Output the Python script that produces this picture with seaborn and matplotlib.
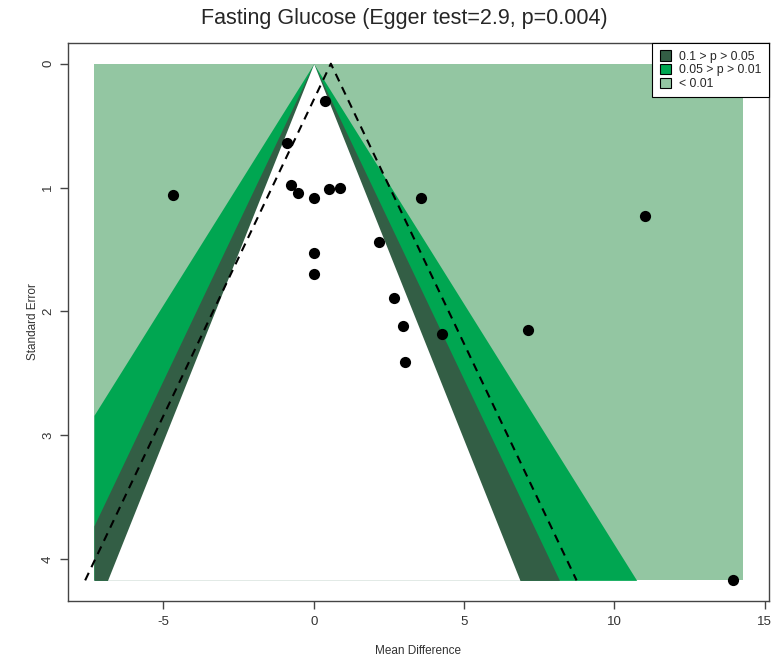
"""Contour-enhanced funnel plot for fasting glucose studies."""

import matplotlib.pyplot as plt
import numpy as np
import pandas as pd
import seaborn as sns
from matplotlib.patches import Patch

# study estimates
mean_diff = [0.37, -0.89, -0.74, -0.53, 0.0, 0.5, 0.86, 3.56, 2.17, 0.0, 0.0,
             2.67, 2.97, 3.03, -4.67, 4.27, 7.13, 11.03, 13.93]
std_err = [0.30, 0.64, 0.98, 1.04, 1.08, 1.01, 1.00, 1.08, 1.44, 1.53, 1.70,
           1.89, 2.12, 2.41, 1.06, 2.18, 2.15, 1.23, 4.17]

contour_z = [2.576, 1.960, 1.645]
contour_colors = ["#00A651", "#335E45", "#FFFFFF"]
legend_labels = ["0.1 > p > 0.05", "0.05 > p > 0.01", "< 0.01"]
legend_colors = ["#335E45", "#00A651", "#93C6A2"]
shade_color = "#93C6A2"

funnel_center = 0.0
egger_center = 0.57
x_range = [-7.31, 14.28]
se_max = 4.17

title = "Fasting Glucose (Egger test=2.9, p=0.004)"
x_ticks = [-5, 0, 5, 10, 15]
y_ticks = [0, 1, 2, 3, 4]

sns.set_style("ticks")
plt.rcParams["font.family"] = ["Liberation Sans", "DejaVu Sans"]
plt.rcParams["axes.unicode_minus"] = False

fig = plt.figure(figsize=(7.71, 6.62), dpi=100)
ax = fig.add_axes([0.0882, 0.0921, 0.9092, 0.8429])

# shaded significance regions
se_grid = np.linspace(0, se_max, 800)
ax.fill_betweenx([0, se_max], x_range[0], x_range[1], color=shade_color, lw=0, zorder=1)
for z, col in zip(contour_z, contour_colors):
    lo = np.clip(funnel_center - z * se_grid, *x_range)
    hi = np.clip(funnel_center + z * se_grid, *x_range)
    ax.fill_betweenx(se_grid, lo, hi, color=col, lw=0, zorder=2)

# regression based pseudo confidence limits
egger = pd.DataFrame({
    "x": np.r_[egger_center - 1.96 * np.array([se_max, 0]),
               egger_center + 1.96 * np.array([0, se_max])],
    "se": [se_max, 0, 0, se_max],
})
ax.plot(egger["x"], egger["se"], color="black", ls=(0, (4, 3)), lw=1.5, zorder=3)

studies = pd.DataFrame({"mean_diff": mean_diff, "std_err": std_err})
sns.scatterplot(data=studies, x="mean_diff", y="std_err", ax=ax, color="black",
                s=65, edgecolor="black", linewidth=0, zorder=4, legend=False)

pad_x = 0.04 * (x_range[1] - x_range[0])
pad_y = 0.04 * se_max
ax.set_xlim(x_range[0] - pad_x, x_range[1] + pad_x)
ax.set_ylim(se_max + pad_y, -pad_y)
ax.set_xticks(x_ticks)
ax.set_yticks(y_ticks)
ax.set_yticklabels([str(t) for t in y_ticks], rotation=90, va="center")
ax.tick_params(direction="out", length=6, width=1, colors="#444444",
               labelsize=9.5, labelcolor="#333333")
ax.tick_params(axis="x", pad=5)
ax.tick_params(axis="y", pad=4)
for spine in ax.spines.values():
    spine.set_color("#444444")
    spine.set_linewidth(1)

ax.set_xlabel("Mean Difference", fontsize=8.5, color="#333333", labelpad=12)
ax.set_ylabel("Standard Error", fontsize=8.5, color="#333333", labelpad=2)
fig.suptitle(title, fontsize=15.5, y=0.988, x=0.525)

handles = [Patch(facecolor=c, edgecolor="black", lw=0.8) for c in legend_colors]
leg = ax.legend(handles, legend_labels, loc="upper right", fontsize=8.8,
                frameon=True, fancybox=False, framealpha=1, borderaxespad=0,
                handlelength=0.9, handleheight=0.9, handletextpad=0.7,
                labelspacing=0.12, borderpad=0.6)
leg.get_frame().set_edgecolor("black")
leg.get_frame().set_linewidth(0.8)

fig.savefig("out.png", dpi=100)
